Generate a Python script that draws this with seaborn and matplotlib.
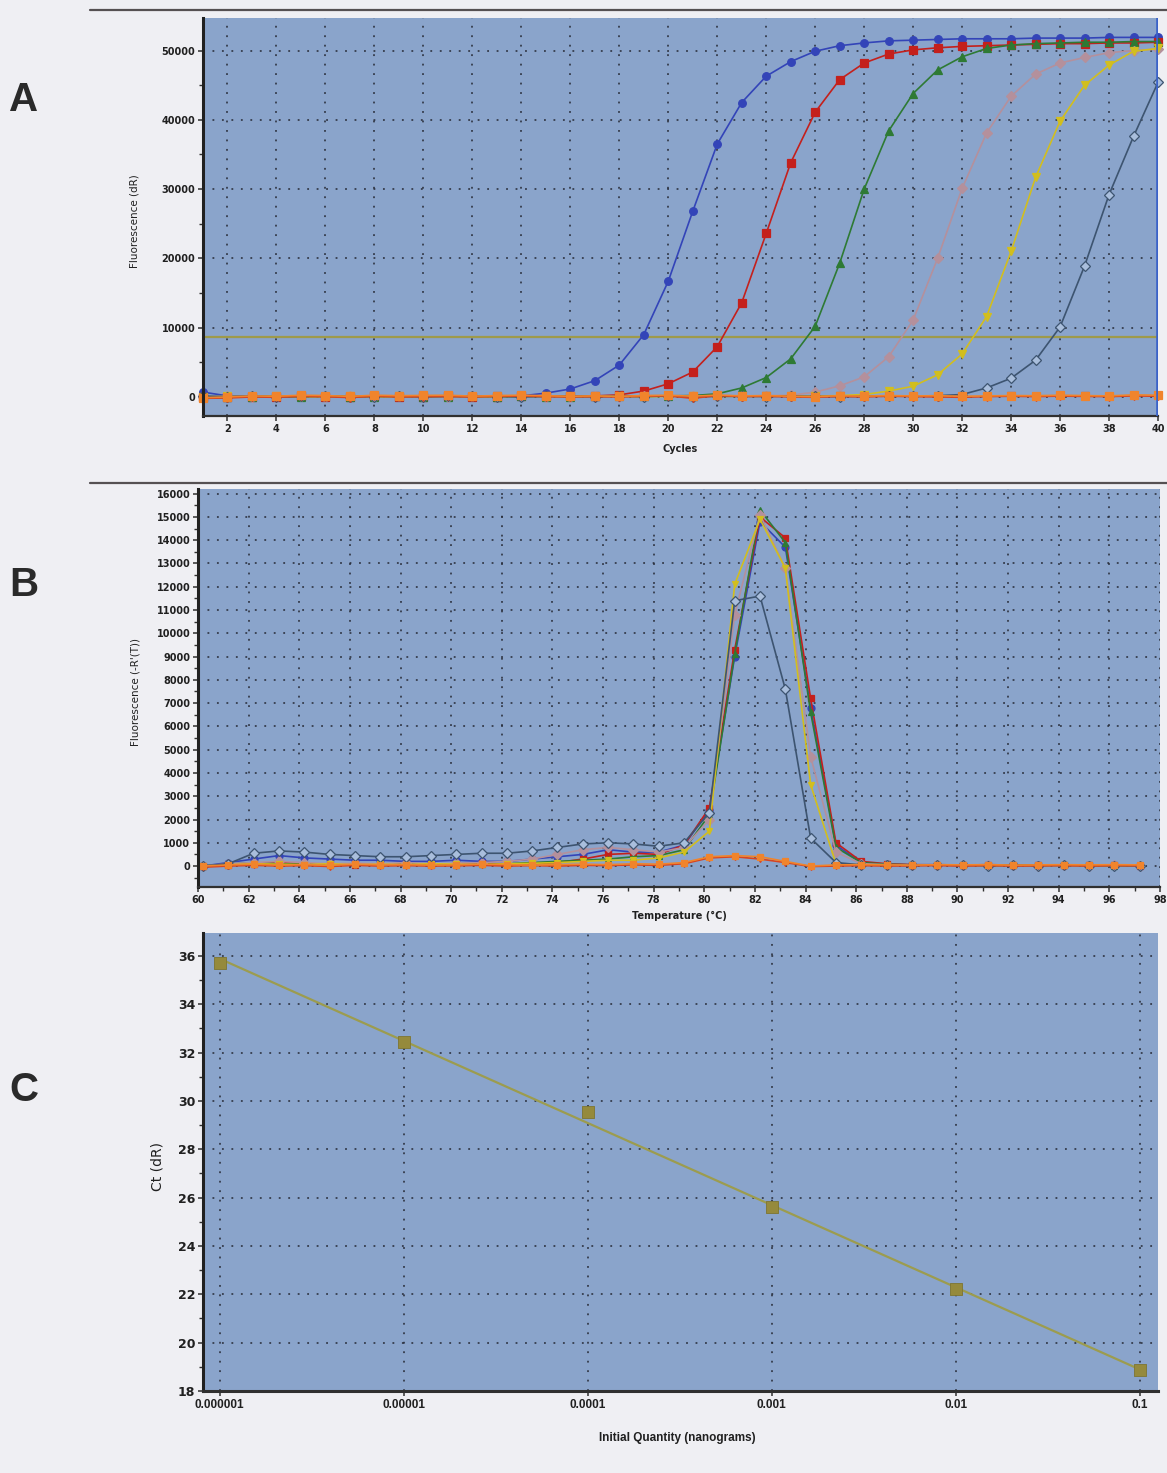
import numpy as np
import pandas as pd
import matplotlib
matplotlib.use("Agg")
import matplotlib.pyplot as plt
from matplotlib.lines import Line2D
from matplotlib.ticker import MultipleLocator, FixedLocator, NullLocator
import seaborn as sns

# ---- panel A : amplification plots (Fluorescence dR vs cycle) ----
cycles = np.arange(1, 41)
amp_blue = [700, 150, 100, 120, 150, 100, 80, 120, 100, 90, 110, 60, 120, 150, 550, 1150, 2350,
            4600, 9000, 16700, 26800, 36500, 42500, 46300, 48400, 49900, 50700, 51100, 51400,
            51500, 51600, 51700, 51700, 51700, 51800, 51800, 51800, 51900, 51900, 51900]
amp_red = [0, -50, 50, 0, 80, 20, 60, 100, 50, 30, 80, 0, 60, 100, 150, 80, 150,
           300, 850, 1900, 3600, 7250, 13600, 23600, 33800, 41100, 45800, 48200, 49500, 50100,
           50400, 50600, 50700, 50800, 50900, 51000, 51000, 51100, 51100, 51200]
amp_green = [100, 0, 50, 80, 20, 100, 50, 0, 80, 60, 20, 100, 50, 80, 30, 60, 100, 120, 80, 150, 200,
             450, 1300, 2800, 5500, 10200, 19300, 30000, 38400, 43800, 47200, 49100, 50300, 50800,
             51000, 51100, 51200, 51200, 51300, 51300]
amp_mauve = [50, 100, 0, 60, 120, 40, 80, 20, 100, 60, 0, 80, 40, 120, 60, 20, 100, 60, 140, 80, 100,
             150, 120, 180, 250, 700, 1600, 2900, 5800, 11100, 20000, 30100, 38100, 43400, 46600,
             48200, 49000, 49700, 50000, 50200]
amp_yellow = [0, 80, 40, 100, 20, 60, 120, 0, 80, 40, 100, 60, 0, 80, 120, 40, 60, 100, 20, 80, 140,
              60, 100, 80, 150, 120, 200, 350, 850, 1550, 3200, 6200, 11600, 21000, 31700, 39800,
              45000, 47900, 49900, 50300]
amp_slate = [100, 50, 120, 0, 80, 100, 40, 60, 120, 20, 80, 100, 60, 0, 120, 80, 40, 100, 60, 140,
             20, 80, 100, 60, 120, 80, 40, 100, 150, 120, 180, 350, 1300, 2700, 5300, 10100, 18900,
             29200, 37600, 45400]
amp_ntc1 = [-100, 0, 150, 100, 250, 200, 80, 250, 180, 220, 250, 120, 200, 250, 180, 100, 150, 80,
            200, 250, 100, 280, 150, 200, 100, 50, 180, 120, 200, 150, 180, 100, 150, 200, 180, 250,
            200, 150, 300, 250]
amp_ntc2 = [-200, -150, 0, -50, 100, 50, -100, 120, 0, 50, 80, 0, 100, 120, 50, 0, 50, 0, 100, 150,
            -200, 200, 50, 100, 0, -50, 80, 0, 100, 50, 0, -50, 50, 100, 50, 120, 80, 50, 150, 100]
threshold = 8650

# ---- panel B : dissociation curves (-R'(T) vs temperature) ----
temps = 60.2 + np.arange(38)
melt_blue = [0, 150, 300, 450, 350, 300, 250, 250, 200, 200, 250, 200, 200, 300, 400, 500, 700, 600, 600, 900,
             2400, 9000, 14800, 13700, 6800, 900, 150, 80, 50, 60, 40, 50, 30, 40, 50, 30, 40, 20]
melt_red = [0, 50, 100, 150, 100, 80, 50, 100, 80, 60, 100, 120, 80, 100, 150, 300, 500, 550, 500, 900,
            2500, 9300, 15000, 14100, 7200, 1000, 200, 100, 60, 50, 40, 60, 40, 50, 30, 40, 30, 20]
melt_green = [0, 80, 150, 100, 80, 60, 100, 50, 80, 100, 60, 80, 100, 150, 200, 250, 300, 400, 450, 700,
              2200, 9100, 15300, 13900, 6600, 800, 150, 80, 50, 40, 50, 30, 40, 30, 50, 30, 20, 30]
melt_mauve = [0, 100, 150, 200, 150, 100, 120, 100, 150, 100, 120, 150, 200, 300, 500, 700, 800, 700, 600, 800,
              2000, 10800, 15100, 12800, 4700, 600, 100, 60, 50, 40, 30, 40, 30, 20, 30, 20, 30, 20]
melt_yellow = [0, 50, 100, 80, 60, 100, 50, 80, 60, 100, 80, 60, 100, 120, 150, 200, 250, 250, 350, 600,
               1500, 12100, 14900, 12800, 3500, 100, 50, 40, 30, 40, 30, 20, 30, 20, 30, 20, 10, 20]
melt_slate = [0, 100, 550, 650, 600, 500, 450, 400, 400, 450, 500, 550, 550, 650, 800, 950, 1000, 950, 850, 1000,
              2300, 11400, 11600, 7600, 1200, 150, 50, 40, 30, 40, 30, 20, 30, 20, 30, 20, 20, 10]
melt_ntc1 = [0, 50, 80, 40, 60, 30, 80, 50, 60, 40, 50, 80, 60, 40, 60, 80, 60, 100, 80, 150,
             400, 450, 400, 200, 0, 50, 60, 50, 40, 60, 50, 60, 40, 50, 60, 50, 60, 50]
melt_ntc2 = [-50, 0, 30, 0, 20, -20, 30, 0, 20, 0, 10, 30, 0, 20, 0, 30, 20, 50, 30, 100,
             350, 400, 300, 150, -20, 0, 20, 0, 10, 20, 0, 20, 0, 10, 20, 0, 20, 10]

# ---- panel C : standard curve ----
quantity = [0.000001, 0.00001, 0.0001, 0.001, 0.01, 0.1]
quantity_labels = ["0.000001", "0.00001", "0.0001", "0.001", "0.01", "0.1"]
ct_values = [35.7, 32.45, 29.55, 25.6, 22.2, 18.85]

# series styling: name -> (color, marker, face)
series_style = {
    "blue": ("#3344B8", "o", None),
    "red": ("#C4201C", "s", None),
    "green": ("#2E7A34", "^", None),
    "mauve": ("#B4909C", "D", None),
    "yellow": ("#D2BE1E", "v", None),
    "slate": ("#3D5470", "D", "#A9BEDC"),
    "ntc2": ("#D84420", "v", None),
    "ntc1": ("#F0842C", "s", None),
}
amp_data = {"blue": amp_blue, "red": amp_red, "green": amp_green, "mauve": amp_mauve,
            "yellow": amp_yellow, "slate": amp_slate, "ntc2": amp_ntc2, "ntc1": amp_ntc1}
melt_data = {"blue": melt_blue, "red": melt_red, "green": melt_green, "mauve": melt_mauve,
             "yellow": melt_yellow, "slate": melt_slate, "ntc2": melt_ntc2, "ntc1": melt_ntc1}

sns.set_theme(style="ticks")
plt.rcParams["font.family"] = ["DejaVu Sans"]
BG = "#8AA4CB"
FIG_BG = "#EFEFF3"
GRID = dict(color="#262a36", linestyle=(0, (1.2, 5)), linewidth=1.1)

fig = plt.figure(figsize=(11.67, 14.73), dpi=100, facecolor=FIG_BG)
W, H = 1167, 1473


def px_axes(left, top, right, bottom):
    return fig.add_axes([left / W, 1 - bottom / H, (right - left) / W, (bottom - top) / H])


def style_axes(ax):
    ax.set_facecolor(BG)
    for s in ["top", "right"]:
        ax.spines[s].set_visible(False)
    ax.spines["left"].set_color("#202020")
    ax.spines["left"].set_linewidth(2.2)
    ax.spines["bottom"].set_color("#303030")
    ax.spines["bottom"].set_linewidth(1.6)
    ax.tick_params(which="major", direction="out", length=3.5, width=1.1, color="#303030",
                   labelsize=7, labelcolor="#202020", pad=2)
    ax.tick_params(which="minor", direction="out", length=3, width=1.0, color="#303030")
    for lab in ax.get_xticklabels() + ax.get_yticklabels():
        lab.set_fontweight("bold")
    ax.set_axisbelow(True)
    ax.grid(True, which="major", **GRID)


def draw_series(ax, x, data, ms, lw):
    for name, vals in data.items():
        col, mk, face = series_style[name]
        df = pd.DataFrame({"x": x, "y": vals})
        sns.lineplot(data=df, x="x", y="y", ax=ax, color=col, linewidth=lw, marker=mk,
                     markersize=ms, markerfacecolor=face if face else col,
                     markeredgecolor=col, markeredgewidth=0.9, legend=False, clip_on=False)


# ---------------- A ----------------
axA = px_axes(203, 18, 1158, 416)
draw_series(axA, cycles, amp_data, ms=5.5, lw=1.2)
axA.axhline(threshold, color="#9E9A4A", linewidth=1.6, zorder=1.5)
axA.set_xlim(1, 40)
axA.set_ylim(-2750, 54700)
axA.xaxis.set_major_locator(FixedLocator(list(range(2, 41, 2))))
axA.yaxis.set_major_locator(MultipleLocator(10000))
axA.yaxis.set_minor_locator(MultipleLocator(5000))
axA.axvline(40, color="#3A62C8", linewidth=2.6, zorder=5)
style_axes(axA)
axA.set_xlabel("Cycles", fontsize=7, fontweight="bold", color="#202020")
axA.set_ylabel("Fluorescence (dR)", fontsize=7.5, color="#202020")
axA.xaxis.set_label_coords(0.5, -0.07)
axA.yaxis.set_label_coords(-0.066, 0.49)

# ---------------- B ----------------
axB = px_axes(198, 489, 1160, 887)
draw_series(axB, temps, melt_data, ms=5, lw=1.2)
axB.set_xlim(60, 98)
axB.set_ylim(-900, 16200)
axB.xaxis.set_major_locator(MultipleLocator(2))
axB.xaxis.set_minor_locator(MultipleLocator(1))
axB.yaxis.set_major_locator(MultipleLocator(1000))
axB.yaxis.set_minor_locator(MultipleLocator(500))
style_axes(axB)
axB.set_xlabel("Temperature (°C)", fontsize=7, fontweight="bold", color="#202020")
axB.set_ylabel("Fluorescence (-R'(T))", fontsize=7.5, color="#202020")
axB.xaxis.set_label_coords(0.5, -0.06)
axB.yaxis.set_label_coords(-0.060, 0.49)

# ---------------- C ----------------
axC = px_axes(203, 933, 1158, 1391)
slope, intercept = np.polyfit(np.log10(quantity), ct_values, 1)
fit_x = np.array([quantity[0], quantity[-1]])
fit_df = pd.DataFrame({"q": fit_x, "ct": slope * np.log10(fit_x) + intercept})
sns.lineplot(data=fit_df, x="q", y="ct", ax=axC, color="#9C9C4E", linewidth=1.6, legend=False)
pts = pd.DataFrame({"q": quantity, "ct": ct_values})
sns.scatterplot(data=pts, x="q", y="ct", ax=axC, marker="s", s=70, color="#958A3C",
                edgecolor="#7E7530", linewidth=0.6, zorder=4, legend=False, clip_on=False)
axC.set_xscale("log")
axC.set_xlim(10 ** -6.09, 10 ** -0.9)
axC.set_ylim(18, 36.95)
axC.xaxis.set_major_locator(FixedLocator(quantity))
axC.xaxis.set_minor_locator(NullLocator())
axC.set_xticklabels(quantity_labels)
axC.yaxis.set_major_locator(MultipleLocator(2))
axC.yaxis.set_minor_locator(MultipleLocator(1))
style_axes(axC)
axC.spines["bottom"].set_linewidth(2.2)
axC.tick_params(axis="y", labelsize=9)
axC.tick_params(axis="x", labelsize=8.5)
for lab in axC.get_xticklabels():
    lab.set_fontfamily("Liberation Sans")
axC.set_xlabel("Initial Quantity (nanograms)", fontsize=8.5, fontweight="bold",
               fontfamily="Liberation Sans", color="#202020")
axC.set_ylabel("Ct (dR)", fontsize=10, color="#202020")
axC.xaxis.set_label_coords(0.497, -0.09)
axC.yaxis.set_label_coords(-0.040, 0.49)

# separators and panel letters
for yy in [10, 483]:
    fig.add_artist(Line2D([90 / W, 1.0], [1 - yy / H, 1 - yy / H], color="#555052", linewidth=1.6))
for letter, yy in [("A", 100), ("B", 585), ("C", 1090)]:
    fig.text(24 / W, 1 - yy / H, letter, fontsize=29, fontweight="bold", color="#2a2a2a",
             ha="center", va="center", fontfamily="Liberation Sans")

fig.savefig("out.png", dpi=100, facecolor=FIG_BG)
